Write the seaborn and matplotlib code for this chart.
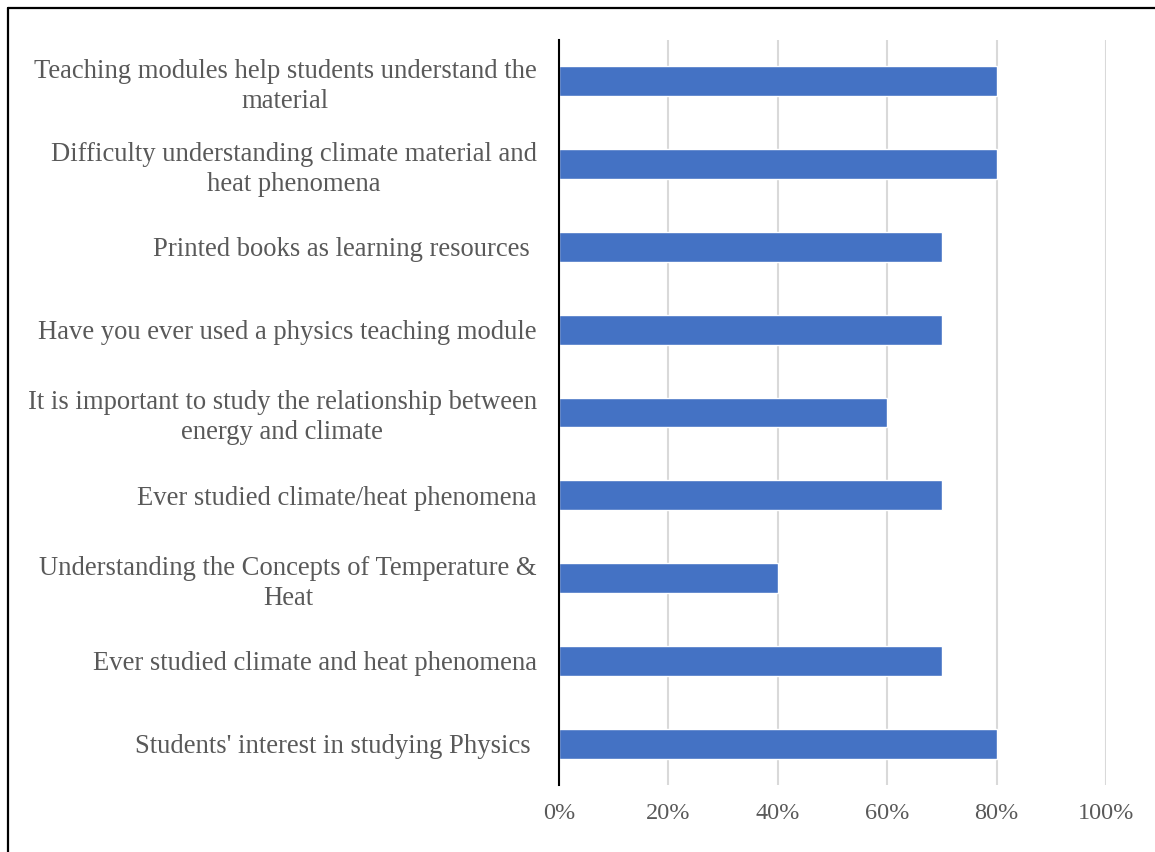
import pandas as pd
import matplotlib.pyplot as plt
import seaborn as sns
from matplotlib.lines import Line2D
from matplotlib.ticker import PercentFormatter

items = [
    "Teaching modules help students understand the\nmaterial",
    "Difficulty understanding climate material and\nheat phenomena",
    "Printed books as learning resources ",
    "Have you ever used a physics teaching module",
    "It is important to study the relationship between\nenergy and climate",
    "Ever studied climate/heat phenomena",
    "Understanding the Concepts of Temperature &\nHeat",
    "Ever studied climate and heat phenomena",
    "Students' interest in studying Physics ",
]
values = [80, 80, 70, 70, 60, 70, 40, 70, 80]

df = pd.DataFrame({"Item": items, "Percent": values})

sns.set_theme(style="white")
plt.rcParams["font.family"] = ["Liberation Serif", "DejaVu Serif"]

fig = plt.figure(figsize=(11.55, 8.52), dpi=100)
ax = fig.add_axes([0.484, 0.0786, 0.4736, 0.8745])

sns.barplot(data=df, x="Percent", y="Item", color="#4472C4", saturation=1,
            width=0.36, orient="h", ax=ax, zorder=3)

ax.set_xlim(0, 100)
ax.set_xticks([0, 20, 40, 60, 80, 100])
ax.xaxis.set_major_formatter(PercentFormatter(decimals=0))
ax.grid(axis="x", color="#d9d9d9", linewidth=1.5, zorder=0)
ax.set_axisbelow(True)
ax.set_xlabel("")
ax.set_ylabel("")

for s in ["top", "right", "bottom"]:
    ax.spines[s].set_visible(False)
ax.spines["left"].set_color("black")
ax.spines["left"].set_linewidth(1.5)
ax.spines["left"].set_zorder(5)

ax.tick_params(axis="y", length=0, pad=16, labelsize=19.2, labelcolor="#595959")
ax.tick_params(axis="x", length=0, pad=13, labelsize=17.5, labelcolor="#595959")
for lbl in ax.get_yticklabels():
    lbl.set_multialignment("center")
    lbl.set_linespacing(1.25)

# outer frame (left and top edges visible)
fig.add_artist(Line2D([8 / 1155, 8 / 1155], [0, 1 - 8 / 852], color="black", lw=1.6,
                      transform=fig.transFigure))
fig.add_artist(Line2D([8 / 1155, 1], [1 - 8 / 852, 1 - 8 / 852], color="black", lw=1.6,
                      transform=fig.transFigure))

fig.savefig("out.png", dpi=100)
